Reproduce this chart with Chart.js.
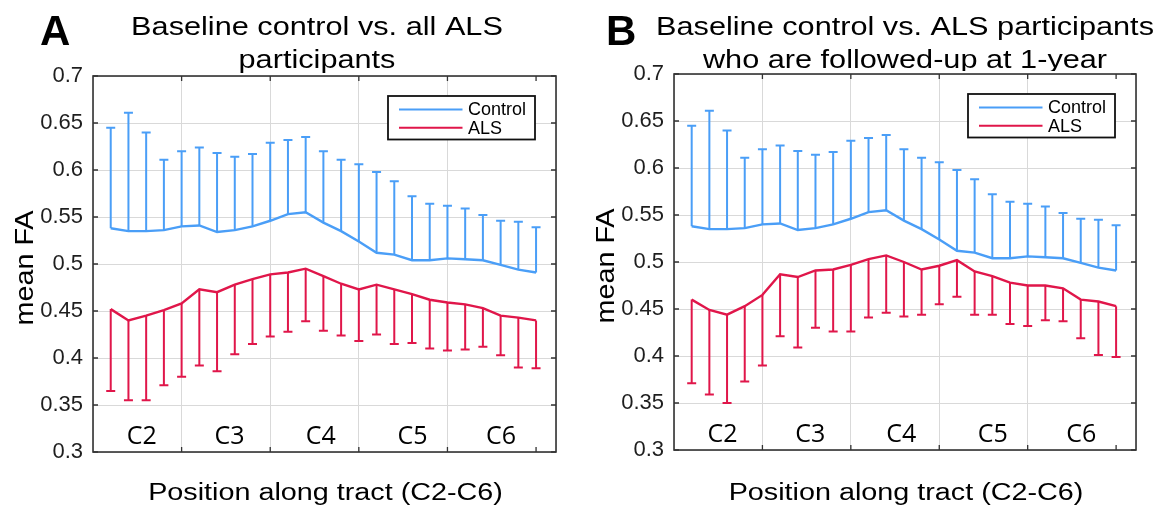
<!DOCTYPE html>
<html>
<head>
<meta charset="utf-8">
<script src="https://cdn.jsdelivr.net/npm/chart.js@4.4.0/dist/chart.umd.min.js"></script>
<style>
  html, body { margin: 0; padding: 0; background: #fff; }
  #wrap { position: relative; width: 1157px; height: 512px; overflow: hidden; }
  .panel { position: absolute; top: 0; height: 512px; }
</style>
</head>
<body>
<div id="wrap">
  <div class="panel" style="left:0;width:578px"><canvas id="chartA"></canvas></div>
  <div class="panel" style="left:579px;width:578px"><canvas id="chartB"></canvas></div>
</div>
<script>
// positions along the tract (x values of every node)
const positions = [4, 8, 12, 16, 20, 24, 28, 32, 36, 40, 44, 48, 52, 56, 60, 64, 68, 72, 76, 80, 84, 88, 92, 96, 100];

// baseline control (same in both panels)
const controlMean  = [0.538, 0.535, 0.535, 0.536, 0.540, 0.541, 0.534, 0.536, 0.540, 0.546, 0.553, 0.555, 0.544,
                      0.535, 0.524, 0.512, 0.510, 0.504, 0.504, 0.506, 0.505, 0.504, 0.499, 0.494, 0.491];
const controlUpper = [0.645, 0.661, 0.640, 0.611, 0.620, 0.624, 0.618, 0.614, 0.617, 0.629, 0.632, 0.635, 0.620,
                      0.611, 0.606, 0.598, 0.588, 0.572, 0.564, 0.562, 0.559, 0.552, 0.546, 0.545, 0.539];

// A: all ALS participants
const alsMeanA  = [0.452, 0.440, 0.445, 0.451, 0.458, 0.473, 0.470, 0.478, 0.484, 0.489, 0.491, 0.495, 0.487,
                   0.479, 0.473, 0.478, 0.473, 0.468, 0.462, 0.459, 0.457, 0.453, 0.445, 0.443, 0.440];
const alsLowerA = [0.365, 0.355, 0.355, 0.371, 0.380, 0.392, 0.386, 0.404, 0.415, 0.423, 0.428, 0.439, 0.429,
                   0.424, 0.418, 0.425, 0.415, 0.416, 0.410, 0.408, 0.409, 0.412, 0.403, 0.390, 0.389];

// B: ALS participants followed-up at 1 year
const alsMeanB  = [0.460, 0.449, 0.444, 0.453, 0.465, 0.487, 0.484, 0.491, 0.492, 0.497, 0.503, 0.507, 0.500,
                   0.492, 0.496, 0.502, 0.490, 0.485, 0.478, 0.475, 0.475, 0.472, 0.460, 0.458, 0.453];
const alsLowerB = [0.371, 0.359, 0.350, 0.373, 0.390, 0.421, 0.409, 0.430, 0.426, 0.426, 0.441, 0.446, 0.442,
                   0.444, 0.455, 0.463, 0.444, 0.444, 0.434, 0.432, 0.438, 0.437, 0.419, 0.401, 0.399];

// vertebral level labels drawn inside the axes
const segmentLabels  = ['C2', 'C3', 'C4', 'C5', 'C6'];
const segmentCentres = [11, 30.8, 51.4, 72.1, 92.1];

const xGridValues = [20, 40, 60, 80, 100];
const seriesNames = ['Control', 'ALS'];

const BLUE = '#4a9ef7';
const RED = '#e0164a';
const FRAME = '#333';
const SANS = '"Liberation Sans", Arial, sans-serif';

function stretchText(ctx, text, x, y, font, sx, rot) {
  ctx.save();
  ctx.translate(x, y);
  if (rot) ctx.rotate(rot);
  ctx.scale(sx, 1);
  ctx.font = font;
  ctx.fillText(text, 0, 0);
  ctx.restore();
}

const errorBars = {
  id: 'errorBars',
  beforeDatasetsDraw(chart) {
    const { ctx, scales: { x, y } } = chart;
    chart.data.datasets.forEach(ds => {
      ctx.save();
      ctx.strokeStyle = ds.borderColor;
      ctx.lineWidth = 2;
      ds.data.forEach((p, i) => {
        const px = x.getPixelForValue(p.x);
        const py0 = y.getPixelForValue(p.y);
        const py1 = y.getPixelForValue(ds.errorEnd[i]);
        ctx.beginPath();
        ctx.moveTo(px, py0);
        ctx.lineTo(px, py1);
        ctx.moveTo(px - 4.5, py1);
        ctx.lineTo(px + 4.5, py1);
        ctx.stroke();
      });
      ctx.restore();
    });
  }
};

const panelDecor = {
  id: 'panelDecor',
  afterDraw(chart, args, o) {
    const { ctx, chartArea: a, scales: { x, y } } = chart;
    ctx.save();

    // box + inward ticks
    ctx.strokeStyle = FRAME;
    ctx.lineWidth = 1.6;
    ctx.strokeRect(a.left, a.top, a.right - a.left, a.bottom - a.top);
    ctx.lineWidth = 1.3;
    ctx.beginPath();
    y.ticks.forEach(t => {
      const py = y.getPixelForValue(t.value);
      ctx.moveTo(a.left, py); ctx.lineTo(a.left + 5, py);
      ctx.moveTo(a.right, py); ctx.lineTo(a.right - 5, py);
    });
    xGridValues.forEach(v => {
      const px = x.getPixelForValue(v);
      ctx.moveTo(px, a.bottom); ctx.lineTo(px, a.bottom - 5);
      ctx.moveTo(px, a.top); ctx.lineTo(px, a.top + 5);
    });
    ctx.stroke();

    // C2..C6
    ctx.fillStyle = '#000';
    ctx.textAlign = 'center';
    ctx.textBaseline = 'alphabetic';
    ctx.font = '25px "Open Sans", sans-serif';
    segmentLabels.forEach((lab, i) => {
      ctx.fillText(lab, x.getPixelForValue(segmentCentres[i]), a.bottom - 8.5);
    });

    // legend
    const bw = 147, bh = 43.5;
    const bx = a.right - 21 - bw, by = a.top + 20;
    ctx.fillStyle = '#fff';
    ctx.fillRect(bx, by, bw, bh);
    ctx.strokeStyle = '#111';
    ctx.lineWidth = 1.8;
    ctx.strokeRect(bx, by, bw, bh);
    chart.data.datasets.forEach((ds, i) => {
      const ly = by + 13.4 + i * 18.4;
      ctx.strokeStyle = ds.borderColor;
      ctx.lineWidth = 2;
      ctx.beginPath();
      ctx.moveTo(bx + 11, ly); ctx.lineTo(bx + 74.5, ly);
      ctx.stroke();
      ctx.fillStyle = '#000';
      ctx.textAlign = 'left';
      ctx.textBaseline = 'middle';
      ctx.font = '18px ' + SANS;
      ctx.fillText(seriesNames[i], bx + 80, ly + 1);
    });

    // titles
    ctx.fillStyle = '#000';
    ctx.textAlign = 'center';
    ctx.textBaseline = 'alphabetic';
    const tf = '26px ' + SANS;
    stretchText(ctx, o.title[0], o.titleX, 35, tf, 1.18);
    ctx.save();
    ctx.beginPath();
    ctx.rect(0, 0, chart.width, o.titleClip);
    ctx.clip();
    stretchText(ctx, o.title[1], o.titleX, 68, tf, 1.18);
    ctx.restore();

    // axis titles
    const mid = (a.left + a.right) / 2;
    stretchText(ctx, 'Position along tract (C2-C6)', mid + 1, 500, '23px ' + SANS, 1.25);
    ctx.textBaseline = 'middle';
    stretchText(ctx, 'mean FA', a.left - 67, (a.top + a.bottom) / 2 + 4, '25px ' + SANS, 1.15, -Math.PI / 2);

    // panel letter
    ctx.textAlign = 'left';
    ctx.textBaseline = 'alphabetic';
    ctx.font = 'bold 42px ' + SANS;
    ctx.fillText(o.letter, o.letterX, 45);
    ctx.restore();
  }
};

function makePanel(id, alsMean, alsLower, cfg) {
  new Chart(document.getElementById(id), {
    type: 'line',
    data: {
      datasets: [
        {
          label: seriesNames[0],
          data: positions.map((p, i) => ({ x: p, y: controlMean[i] })),
          errorEnd: controlUpper,
          borderColor: BLUE,
          borderWidth: 2.4,
          pointRadius: 0,
          tension: 0
        },
        {
          label: seriesNames[1],
          data: positions.map((p, i) => ({ x: p, y: alsMean[i] })),
          errorEnd: alsLower,
          borderColor: RED,
          borderWidth: 2.4,
          pointRadius: 0,
          tension: 0
        }
      ]
    },
    options: {
      responsive: true,
      maintainAspectRatio: false,
      animation: false,
      layout: { padding: { left: 0, right: cfg.padRight, top: cfg.plotTop, bottom: 0 } },
      plugins: {
        legend: { display: false },
        tooltip: { enabled: false },
        panelDecor: cfg.decor
      },
      scales: {
        x: {
          type: 'linear',
          min: 0,
          max: 104.5,
          ticks: { stepSize: 20, display: false },
          grid: { color: '#d9d9d9', lineWidth: 1, drawTicks: false },
          border: { display: false },
          afterFit(s) { s.height = 512 - cfg.plotBottom; }
        },
        y: {
          min: 0.3,
          max: 0.7,
          ticks: {
            stepSize: 0.05,
            padding: 10,
            color: '#1e1e1e',
            font: { family: 'Liberation Sans', size: 22 },
            callback: v => String(parseFloat(v.toFixed(2)))
          },
          grid: { color: '#d9d9d9', lineWidth: 1, drawTicks: false },
          border: { display: false },
          afterFit(s) { s.width = cfg.plotLeft; }
        }
      }
    },
    plugins: [errorBars, panelDecor]
  });
}

makePanel('chartA', alsMeanA, alsLowerA, {
  plotLeft: 93, padRight: 22, plotTop: 76, plotBottom: 452,
  decor: { letter: 'A', letterX: 40, title: ['Baseline control vs. all ALS', 'participants'], titleX: 317, titleClip: 200 }
});

makePanel('chartB', alsMeanB, alsLowerB, {
  plotLeft: 95, padRight: 21, plotTop: 74, plotBottom: 450,
  decor: { letter: 'B', letterX: 27, title: ['Baseline control vs. ALS participants', 'who are followed-up at 1-year'], titleX: 326, titleClip: 71 }
});
</script>
</body>
</html>
